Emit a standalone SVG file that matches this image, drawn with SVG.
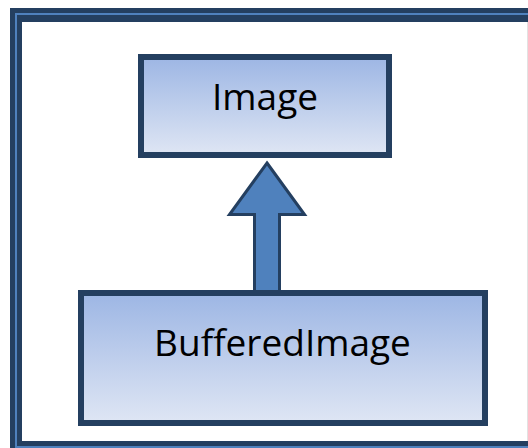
<svg xmlns="http://www.w3.org/2000/svg" width="528" height="448" viewBox="0 0 528 448">
<defs>
<linearGradient id="boxGrad" x1="0" y1="0" x2="0" y2="1">
<stop offset="0" stop-color="#9DB6E4"/>
<stop offset="1" stop-color="#DFE6F4"/>
</linearGradient>
<style>
.box{fill:url(#boxGrad);stroke:#243F60;stroke-width:6}
.lbl{font-family:"Open Sans","Noto Sans",sans-serif;font-size:37px;fill:#000;text-anchor:middle}
.arrow{fill:#4F81BD;stroke:#243F60;stroke-width:3;stroke-linejoin:miter}
</style>
</defs>
<rect width="528" height="448" fill="#ffffff"/>
<g id="frame">
<rect x="10" y="8" width="540" height="460" fill="#243F60"/>
<rect x="15" y="13" width="530" height="450" fill="#4F81BD"/>
<rect x="17" y="15" width="526" height="431" fill="#243F60"/>
<rect x="22" y="22" width="510" height="419" fill="#ffffff"/>
<line x1="527.5" y1="22" x2="527.5" y2="441" stroke="#e2e2e2" stroke-width="1"/>
</g>
<g id="connectors">
<path class="arrow" d="M267,163 L304.5,214.5 L279.5,214.5 L279.5,292 L254.5,292 L254.5,214.5 L229.5,214.5 Z"/>
</g>
<g id="node-image">
<rect class="box" x="141" y="57" width="248" height="98"/>
<text class="lbl" x="265" y="110">Image</text>
</g>
<g id="node-bufferedimage">
<rect class="box" x="81" y="293" width="404" height="130"/>
<text class="lbl" x="282.5" y="356">BufferedImage</text>
</g>
</svg>
